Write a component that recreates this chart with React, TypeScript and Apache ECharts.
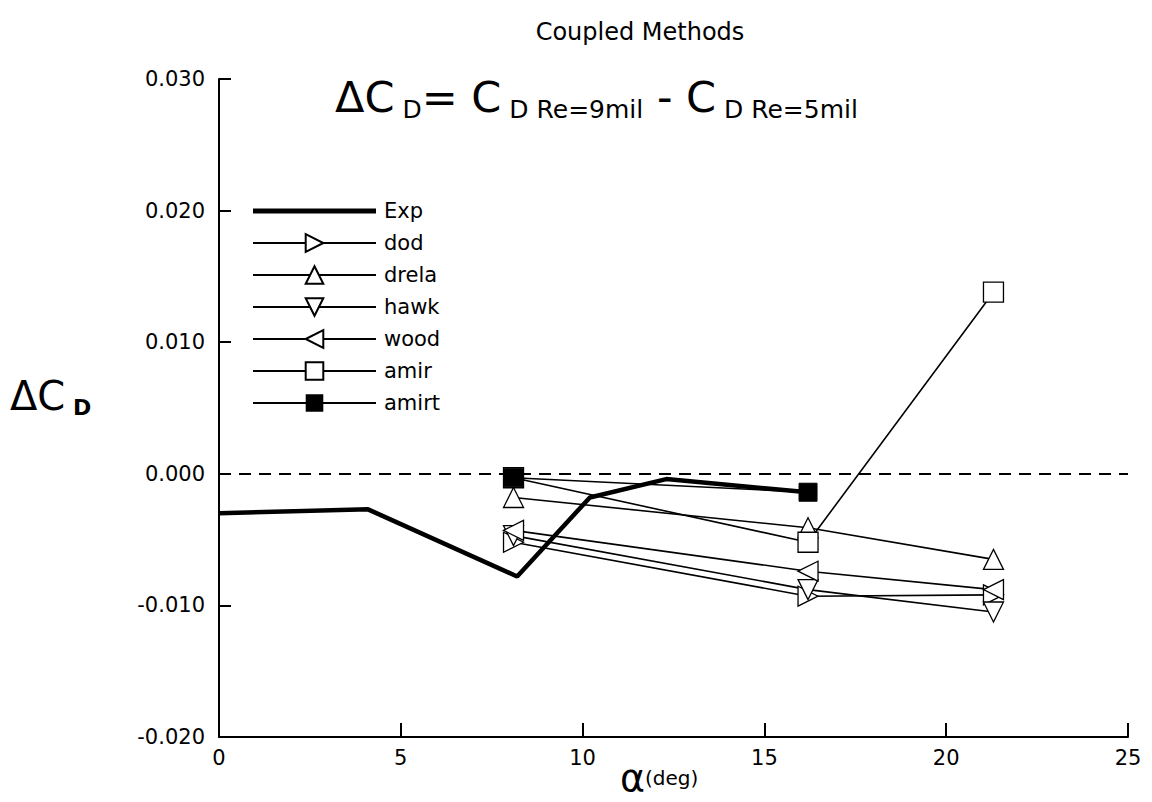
import React, { useEffect, useRef } from "react";
import * as echarts from "echarts";

const alphaExp = [0, 4.1, 8.2, 10.2, 12.3, 16.2];
const cdExp = [-0.003, -0.0027, -0.0078, -0.0018, -0.0004, -0.0014];

const alphaCoupled = [8.1, 16.2, 21.3];
const cdDod = [-0.0052, -0.0093, -0.0092];
const cdDrela = [-0.0018, -0.0041, -0.0065];
const cdHawk = [-0.0047, -0.0088, -0.0105];
const cdWood = [-0.0043, -0.0074, -0.0088];
const cdAmir = [-0.0003, -0.0052, 0.0138];

const alphaAmirt = [8.1, 16.2];
const cdAmirt = [-0.0003, -0.0014];

const xTicks = [0, 5, 10, 15, 20, 25];
const yTicks = [-0.02, -0.01, 0, 0.01, 0.02, 0.03];

const FONT = "'DejaVu Sans', 'Liberation Sans', Arial, sans-serif";

function pairs(xs: number[], ys: number[]) {
  return xs.map((x, i) => [x, ys[i]]);
}

export default function App() {
  const ref = useRef<HTMLDivElement>(null);
  useEffect(() => {
    if (!ref.current) return;
    const chart = echarts.init(ref.current, undefined, { renderer: "svg" });
    const hollow = { color: "#fff", borderColor: "#000", borderWidth: 1.3 };
    const thin = { color: "#000", width: 1.6 };
    const mk = (name: string, ys: number[], symbol: string, rotate: number) => ({
      name,
      type: "line",
      data: pairs(alphaCoupled, ys),
      symbol,
      symbolRotate: rotate,
      symbolSize: 20,
      showAllSymbol: true,
      itemStyle: hollow,
      lineStyle: thin,
      z: 3,
    });
    chart.setOption({
      animation: false,
      backgroundColor: "#fff",
      grid: { left: 219, right: 24, top: 79, bottom: 65, containLabel: false },
      xAxis: {
        type: "value",
        min: 0,
        max: 25,
        interval: 5,
        axisLine: { show: true, onZero: false, lineStyle: { color: "#000", width: 2 } },
        axisTick: { show: true, inside: true, length: 14, lineStyle: { color: "#000", width: 2 } },
        axisLabel: {
          color: "#000",
          fontSize: 21,
          fontFamily: FONT,
          margin: 10,
          formatter: (v: number) => (xTicks.includes(v) ? String(v) : ""),
        },
        splitLine: { show: false },
      },
      yAxis: {
        type: "value",
        min: -0.02,
        max: 0.03,
        interval: 0.01,
        axisLine: { show: true, onZero: false, lineStyle: { color: "#000", width: 2 } },
        axisTick: { show: true, inside: true, length: 12, lineStyle: { color: "#000", width: 2 } },
        axisLabel: {
          color: "#000",
          fontSize: 21,
          fontFamily: FONT,
          margin: 14,
          formatter: (v: number) => {
            const t = yTicks.find((y) => Math.abs(y - v) < 1e-9);
            return t === undefined ? "" : (Math.abs(t) < 1e-12 ? 0 : t).toFixed(3);
          },
        },
        splitLine: { show: false },
      },
      legend: {
        orient: "vertical",
        left: 247,
        top: 195,
        itemWidth: 123,
        itemHeight: 22,
        itemGap: 10,
        textStyle: { color: "#000", fontSize: 21, lineHeight: 22, fontFamily: FONT, padding: [0, 0, 0, 3] },
        data: [
          { name: "Exp", icon: "path://M0,0L123,0L123,5L0,5Z", itemStyle: { color: "#000" } },
          "dod",
          "drela",
          "hawk",
          "wood",
          "amir",
          "amirt",
        ],
      },
      graphic: [
        {
          type: "text",
          x: 640,
          y: 32,
          style: {
            text: "Coupled Methods",
            fontSize: 24,
            fontFamily: FONT,
            fill: "#000",
            align: "center",
            verticalAlign: "middle",
          },
        },
        {
          type: "text",
          x: 335,
          y: 72,
          style: {
            text: "{b|ΔC}{s| D}{b|= C}{s| D Re=9mil}{b| - C}{s| D Re=5mil}",
            fill: "#000",
            rich: {
              b: { fontSize: 43, fontFamily: FONT, lineHeight: 50, verticalAlign: "middle", fill: "#000" },
              s: { fontSize: 25, fontFamily: FONT, lineHeight: 18, verticalAlign: "bottom", fill: "#000" },
            },
          },
        },
        {
          type: "text",
          x: 10,
          y: 374,
          style: {
            text: "{b|ΔC}{s| D}",
            fill: "#000",
            rich: {
              b: { fontSize: 40, fontFamily: FONT, lineHeight: 44, verticalAlign: "middle", fill: "#000" },
              s: { fontSize: 22, fontWeight: "bold", fontFamily: FONT, lineHeight: 16, verticalAlign: "bottom", fill: "#000" },
            },
          },
        },
        {
          type: "text",
          x: 620,
          y: 760,
          style: {
            text: "{b|α}{s|(deg)}",
            fill: "#000",
            rich: {
              b: { fontSize: 38, fontFamily: FONT, lineHeight: 36, verticalAlign: "middle", fill: "#000" },
              s: { fontSize: 20, fontFamily: FONT, lineHeight: 36, verticalAlign: "middle", fill: "#000" },
            },
          },
        },
      ],
      series: [
        {
          name: "Exp",
          type: "line",
          data: pairs(alphaExp, cdExp),
          symbol: "none",
          lineStyle: { color: "#000", width: 4.5 },
          itemStyle: { color: "#000" },
          z: 2,
          markLine: {
            silent: true,
            symbol: "none",
            label: { show: false },
            lineStyle: { color: "#000", width: 2, type: [12, 8] },
            data: [{ yAxis: 0 }],
          },
        },
        mk("dod", cdDod, "triangle", -90),
        mk("drela", cdDrela, "triangle", 0),
        mk("hawk", cdHawk, "triangle", 180),
        mk("wood", cdWood, "triangle", 90),
        mk("amir", cdAmir, "rect", 0),
        {
          name: "amirt",
          type: "line",
          data: pairs(alphaAmirt, cdAmirt),
          symbol: "rect",
          symbolSize: 18,
          itemStyle: { color: "#000", borderColor: "#000" },
          lineStyle: thin,
          z: 4,
        },
      ],
    });
    return () => chart.dispose();
  }, []);
  return (
    <div
      ref={ref}
      style={{ position: "fixed", left: 0, top: 0, width: 1152, height: 802, background: "#fff" }}
    />
  );
}
